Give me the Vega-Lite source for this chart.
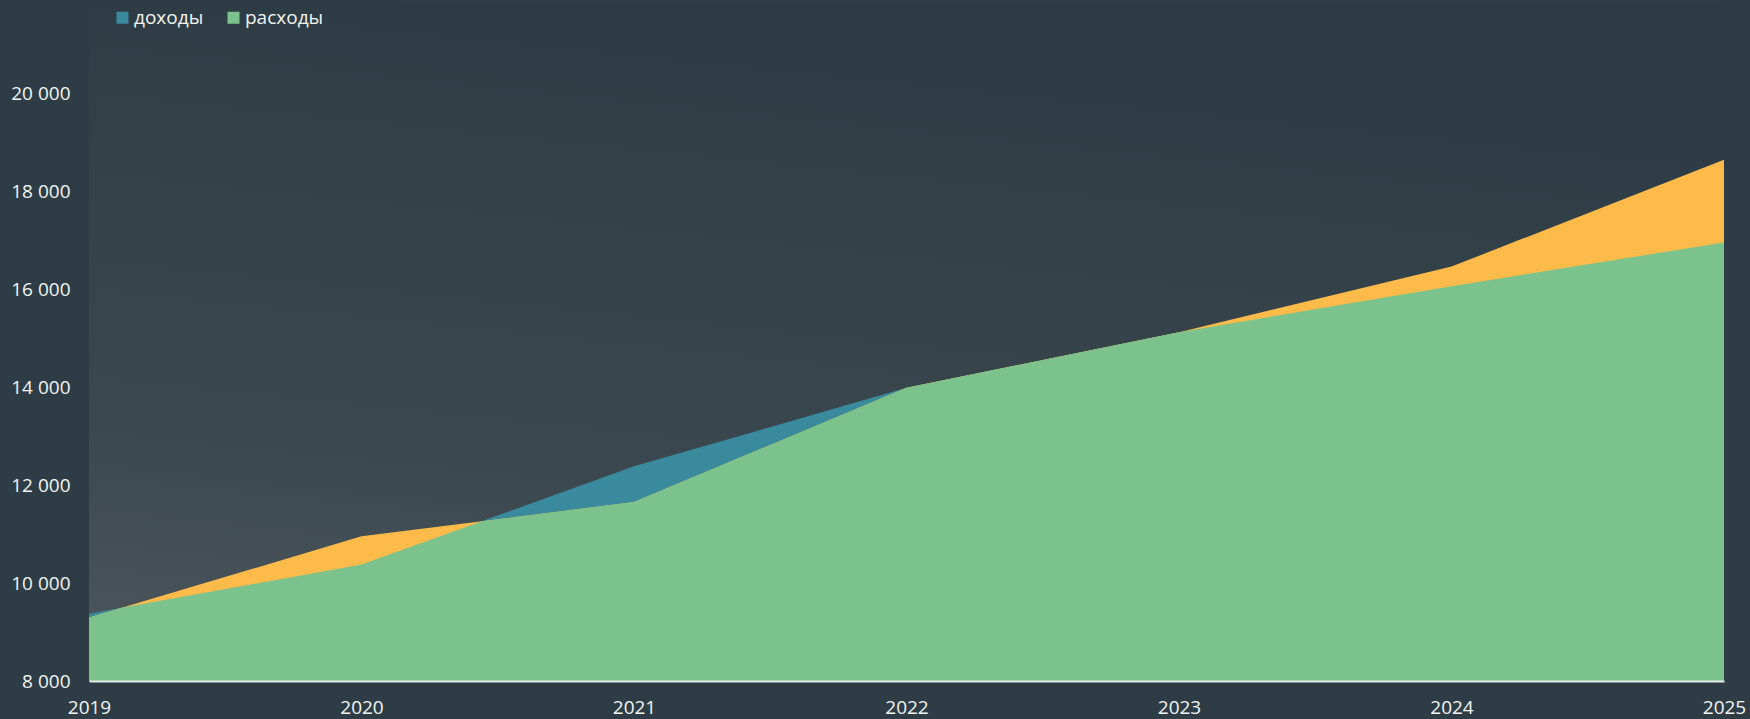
{
  "$schema": "https://vega.github.io/schema/vega-lite/v6.json",
  "width": 1635,
  "height": 676,
  "autosize": {"type": "none"},
  "padding": {"left": 89, "top": 5, "right": 26, "bottom": 38},
  "background": "#2E3D45",
  "config": {
    "view": {"stroke": null},
    "font": "Open Sans",
    "axis": {
      "grid": false,
      "ticks": false,
      "tickSize": 0,
      "labelColor": "#F2F4F4",
      "labelFont": "Open Sans",
      "labelFontSize": 19,
      "title": null
    }
  },
  "datasets": {
    "dohody": [
      {"год": 2019, "значение": 9375},
      {"год": 2020, "значение": 10376},
      {"год": 2021, "значение": 12382},
      {"год": 2022, "значение": 13985},
      {"год": 2023, "значение": 15120},
      {"год": 2024, "значение": 16059},
      {"год": 2025, "значение": 16953}
    ],
    "verh": [
      {"год": 2019, "значение": 9294},
      {"год": 2020, "значение": 10953},
      {"год": 2021, "значение": 11653},
      {"год": 2022, "значение": 13985},
      {"год": 2023, "значение": 15120},
      {"год": 2024, "значение": 16460},
      {"год": 2025, "значение": 18641}
    ],
    "rashody": [
      {"год": 2019, "значение": 9294},
      {"год": 2019.123, "значение": 9498},
      {"год": 2020, "значение": 10376},
      {"год": 2020.442, "значение": 11262},
      {"год": 2021, "значение": 11653},
      {"год": 2022, "значение": 13985},
      {"год": 2023, "значение": 15120},
      {"год": 2024, "значение": 16059},
      {"год": 2025, "значение": 16953}
    ]
  },
  "layer": [
    {
      "data": {"values": [{}]},
      "mark": {
        "type": "rect",
        "color": {
          "gradient": "linear",
          "x1": 0, "y1": 1, "x2": 0.25, "y2": 0,
          "stops": [
            {"offset": 0, "color": "#4D585E"},
            {"offset": 0.35, "color": "#3C484F"},
            {"offset": 1, "color": "#2D3C44"}
          ]
        }
      }
    },
    {
      "data": {"name": "dohody"},
      "mark": {"type": "area", "interpolate": "linear", "clip": true},
      "encoding": {
        "x": {
          "field": "год", "type": "quantitative",
          "scale": {"domain": [2019, 2025], "nice": false, "zero": false},
          "axis": {
            "values": [2019, 2020, 2021, 2022, 2023, 2024, 2025],
            "format": "d",
            "domain": true,
            "domainColor": "#E4EAEA",
            "domainWidth": 2,
            "labelPadding": 17,
            "labelFlush": false,
            "zindex": 1
          }
        },
        "y": {
          "field": "значение", "type": "quantitative",
          "scale": {"domain": [8000, 21800], "nice": false, "zero": false},
          "axis": {
            "values": [8000, 10000, 12000, 14000, 16000, 18000, 20000],
            "labelExpr": "replace(format(datum.value, ','), ',', ' ')",
            "domain": false,
            "labelPadding": 19,
            "zindex": 1
          }
        },
        "y2": {"datum": 8000},
        "color": {
          "datum": "доходы",
          "scale": {"domain": ["доходы", "расходы"], "range": ["#3A8A9E", "#7BC28C"]},
          "legend": {
            "title": null,
            "orient": "none",
            "direction": "horizontal",
            "legendX": 24,
            "legendY": 3,
            "symbolType": "square",
            "symbolSize": 144,
            "symbolStrokeWidth": 0,
            "labelFont": "Open Sans",
            "labelFontSize": 19,
            "labelColor": "#F2F4F4",
            "labelOffset": 2,
            "columnPadding": 20,
            "padding": 0
          }
        }
      }
    },
    {
      "data": {"name": "verh"},
      "mark": {"type": "area", "interpolate": "linear", "color": "#FFBB4A", "clip": true},
      "encoding": {
        "x": {"field": "год", "type": "quantitative"},
        "y": {"field": "значение", "type": "quantitative"},
        "y2": {"datum": 8000}
      }
    },
    {
      "data": {"name": "rashody"},
      "mark": {"type": "area", "interpolate": "linear", "clip": true},
      "encoding": {
        "x": {"field": "год", "type": "quantitative"},
        "y": {"field": "значение", "type": "quantitative"},
        "y2": {"datum": 8000},
        "color": {"datum": "расходы"}
      }
    }
  ]
}
